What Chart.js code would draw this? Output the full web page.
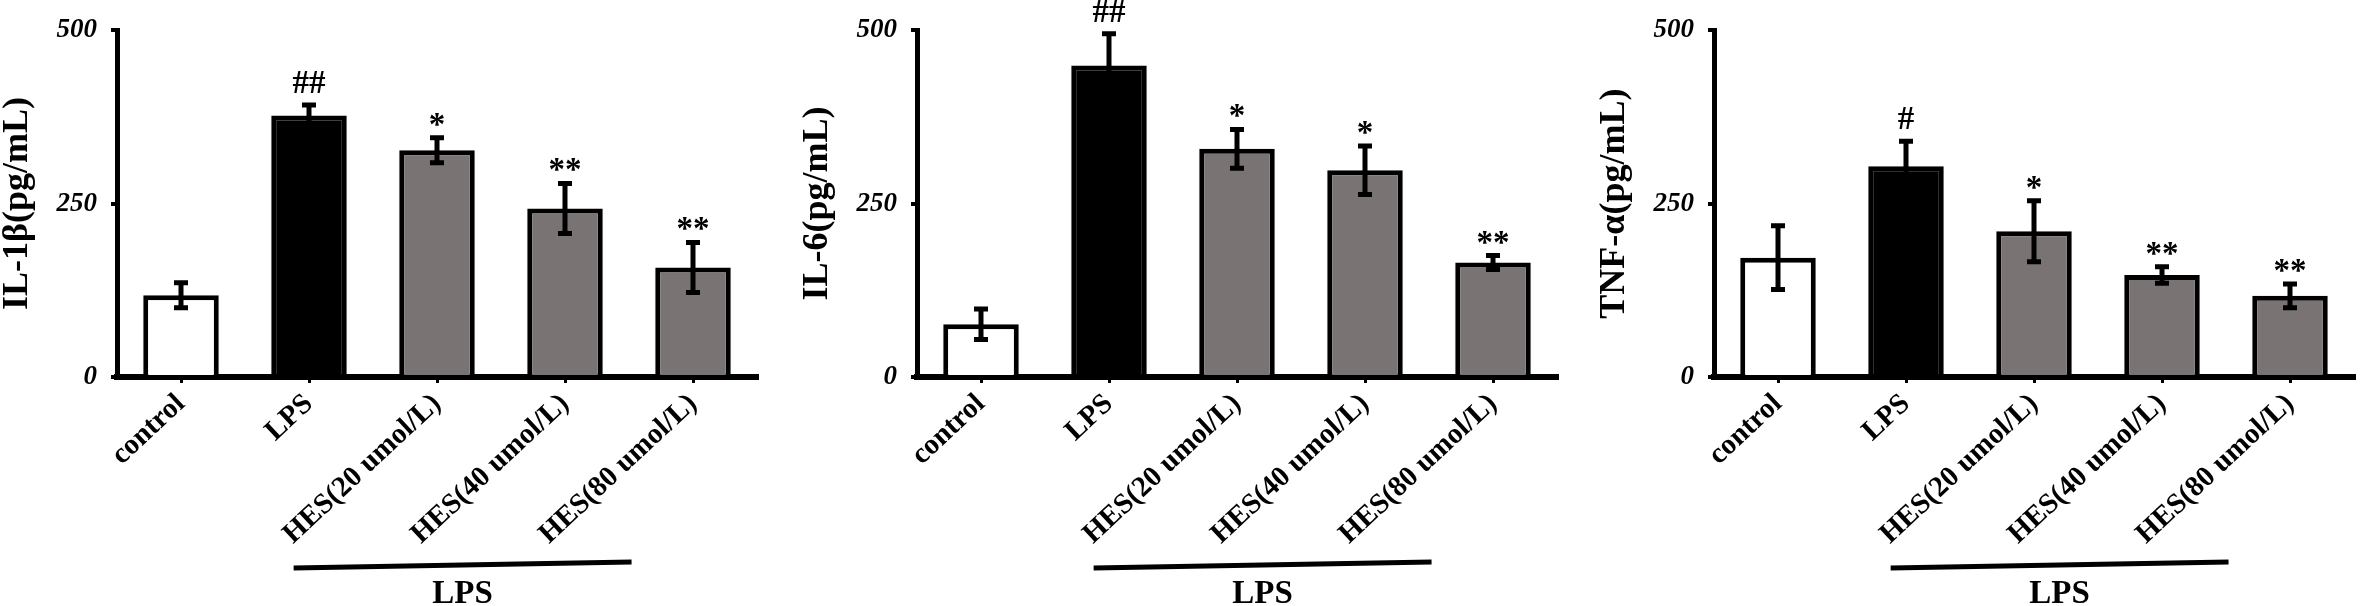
<!DOCTYPE html>
<html>
<head>
<meta charset="utf-8">
<script src="https://cdn.jsdelivr.net/npm/chart.js@4"></script>
<style>
  html, body { margin: 0; padding: 0; background: #fff; }
  body { width: 2362px; height: 606px; position: relative; overflow: hidden; }
  .panel { position: absolute; top: 0; width: 765px; height: 606px; }
</style>
</head>
<body>
<div class="panel" style="left:0px"><canvas id="c1"></canvas></div>
<div class="panel" style="left:800px"><canvas id="c2"></canvas></div>
<div class="panel" style="left:1597px"><canvas id="c3"></canvas></div>
<script>
const categories = ['control', 'LPS', 'HES(20 umol/L)', 'HES(40 umol/L)', 'HES(80 umol/L)']
const yTicks = [0, 250, 500]
const groupLabel = 'LPS'

const il1bMeans = [118, 377, 327, 243, 158]
const il1bErrors = [18, 15, 18, 36, 36]
const il1bMarks = ['', '##', '*', '**', '**']

const il6Means = [76, 449, 329, 298, 165]
const il6Errors = [22, 46, 28, 35, 10]
const il6Marks = ['', '##', '*', '*', '**']

const tnfMeans = [172, 304, 210, 147, 117]
const tnfErrors = [46, 36, 44, 12, 17]
const tnfMarks = ['', '#', '*', '**', '**']

const barColors = ['#ffffff', '#000000', '#797373', '#797373', '#797373']
const serif = "'Liberation Serif', 'Times New Roman', serif"

Chart.defaults.font.family = serif
Chart.defaults.color = '#000'

// error bars + significance marks
const errorBars = {
    id: 'errorBars',
    afterDatasetsDraw(chart, args, opts) {
        const ctx = chart.ctx
        const y = chart.scales.y
        const meta = chart.getDatasetMeta(0)
        const means = chart.data.datasets[0].data
        ctx.save()
        ctx.strokeStyle = '#000'
        ctx.fillStyle = '#000'
        ctx.lineWidth = 5
        meta.data.forEach((bar, i) => {
            const top = y.getPixelForValue(means[i] + opts.errors[i])
            const bot = y.getPixelForValue(means[i] - opts.errors[i])
            ctx.beginPath()
            ctx.moveTo(bar.x, top)
            ctx.lineTo(bar.x, bot)
            ctx.moveTo(bar.x - 7, top)
            ctx.lineTo(bar.x + 7, top)
            ctx.moveTo(bar.x - 7, bot)
            ctx.lineTo(bar.x + 7, bot)
            ctx.stroke()
            const mark = opts.marks[i]
            if (mark) {
                ctx.font = 'bold 33px ' + serif
                ctx.textAlign = 'center'
                ctx.textBaseline = 'alphabetic'
                ctx.fillText(mark, bar.x, top - (mark.includes('#') ? 12 : 3))
            }
        })
        ctx.restore()
    }
}

// bracket under the HES groups with the LPS label
const lpsBracket = {
    id: 'lpsBracket',
    afterDraw(chart) {
        const ctx = chart.ctx
        const x = chart.scales.x
        const cw = x.getPixelForValue(1) - x.getPixelForValue(0)
        const x0 = x.getPixelForValue(1) - 0.12 * cw
        const x1 = x.getPixelForValue(3) + 0.52 * cw
        const yb = chart.chartArea.bottom + 188
        ctx.save()
        ctx.strokeStyle = '#000'
        ctx.lineWidth = 5
        ctx.beginPath()
        ctx.moveTo(x0, yb + 3)
        ctx.lineTo(x1, yb - 3)
        ctx.stroke()
        ctx.font = 'bold 33px ' + serif
        ctx.textAlign = 'center'
        ctx.textBaseline = 'alphabetic'
        ctx.fillText(groupLabel, (x0 + x1) / 2, chart.chartArea.bottom + 226)
        ctx.restore()
    }
}

function makeChart(id, title, means, errors, marks) {
    return new Chart(document.getElementById(id).getContext('2d'), {
        type: 'bar',
        plugins: [errorBars, lpsBracket],
        data: {
            labels: categories,
            datasets: [{
                data: means,
                backgroundColor: barColors,
                borderColor: '#000',
                borderWidth: 5,
                barPercentage: 0.59,
                categoryPercentage: 1
            }]
        },
        options: {
            responsive: true,
            maintainAspectRatio: false,
            animation: false,
            layout: { padding: { top: 30, right: 8, left: 0, bottom: 0 } },
            plugins: {
                legend: { display: false },
                tooltip: { enabled: false },
                errorBars: { errors: errors, marks: marks }
            },
            scales: {
                x: {
                    grid: { display: true, drawOnChartArea: false, offset: false, tickLength: 6, lineWidth: 3, color: '#000' },
                    border: { display: true, width: 6, color: '#000' },
                    ticks: {
                        minRotation: 43,
                        maxRotation: 43,
                        padding: 4,
                        autoSkip: false,
                        font: { size: 29, weight: 'bold' }
                    },
                    afterFit(scale) { scale.height = 229 }
                },
                y: {
                    min: 0,
                    max: 500,
                    afterBuildTicks(scale) { scale.ticks = yTicks.map(v => ({ value: v })) },
                    grid: { display: true, drawOnChartArea: false, tickLength: 6, lineWidth: 4, color: '#000' },
                    border: { display: true, width: 5, color: '#000' },
                    ticks: {
                        padding: 14,
                        font: { size: 27, style: 'italic', weight: 'bold' }
                    },
                    title: {
                        display: true,
                        text: title,
                        padding: { top: 0, bottom: 0 },
                        font: { size: 36, weight: 'bold', lineHeight: 1 }
                    },
                    afterFit(scale) { scale.width = 117 }
                }
            }
        }
    })
}

makeChart('c1', 'IL-1β(pg/mL)', il1bMeans, il1bErrors, il1bMarks)
makeChart('c2', 'IL-6(pg/mL)', il6Means, il6Errors, il6Marks)
makeChart('c3', 'TNF-α(pg/mL)', tnfMeans, tnfErrors, tnfMarks)
</script>
</body>
</html>
